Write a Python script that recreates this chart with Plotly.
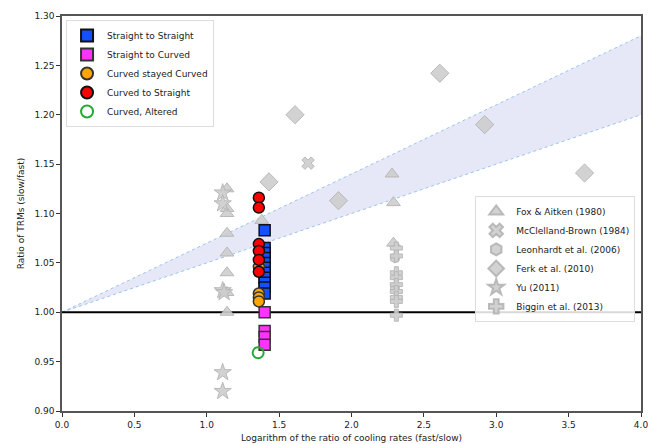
import plotly.graph_objects as go

# ---- data ----
band_x = [0.0, 4.0]
band_low = [1.0, 1.20]
band_high = [1.0, 1.28]

fox_x = [1.14, 1.14, 1.14, 1.14, 1.14, 1.14, 1.14, 1.14, 2.28, 2.29, 2.29, 1.38]
fox_y = [1.125, 1.105, 1.10, 1.08, 1.06, 1.04, 1.02, 1.00, 1.14, 1.111, 1.07, 1.093]

mcc_x = [1.70]
mcc_y = [1.151]

leon_x = [2.30, 2.30]
leon_y = [1.055, 1.025]

ferk_x = [1.61, 2.61, 2.92, 3.61, 1.43, 1.91]
ferk_y = [1.200, 1.242, 1.190, 1.141, 1.132, 1.113]

yu_x = [1.11, 1.11, 1.11, 1.12, 1.11, 1.11]
yu_y = [1.121, 1.110, 1.022, 1.020, 0.939, 0.920]

big_x = [2.31, 2.31, 2.31, 2.31, 2.31, 2.31, 2.31, 2.31, 2.31]
big_y = [1.065, 1.057, 1.040, 1.035, 1.028, 1.021, 1.015, 1.011, 0.997]

ss_x = [1.40] * 11
ss_y = [1.083, 1.065, 1.060, 1.055, 1.050, 1.045, 1.040, 1.035, 1.030, 1.025, 1.019]

sc_x = [1.40, 1.40, 1.40, 1.40]
sc_y = [1.000, 0.981, 0.975, 0.967]

cc_x = [1.36, 1.36, 1.36, 1.36]
cc_y = [1.046, 1.019, 1.015, 1.011]

cs_x = [1.36, 1.36, 1.36, 1.36, 1.36, 1.36]
cs_y = [1.116, 1.106, 1.069, 1.062, 1.053, 1.041]

ca_x = [1.355]
ca_y = [0.959]

x_ticks = [0.0, 0.5, 1.0, 1.5, 2.0, 2.5, 3.0, 3.5, 4.0]
y_ticks = [0.90, 0.95, 1.00, 1.05, 1.10, 1.15, 1.20, 1.25, 1.30]

GRAY = "rgba(205,205,205,0.9)"
GRAY_EDGE = "rgba(180,180,180,0.9)"
FONT = "DejaVu Sans"

fig = go.Figure()

# band
fig.add_trace(go.Scatter(x=band_x, y=band_low, mode="lines",
                         line=dict(color="#9cc3ec", width=1, dash="dot"),
                         showlegend=False, hoverinfo="skip"))
fig.add_trace(go.Scatter(x=band_x, y=band_high, mode="lines", fill="tonexty",
                         fillcolor="rgba(200,205,240,0.45)",
                         line=dict(color="#9cc3ec", width=1, dash="dot"),
                         showlegend=False, hoverinfo="skip"))
# reference line
fig.add_trace(go.Scatter(x=[0, 4], y=[1.0, 1.0], mode="lines",
                         line=dict(color="black", width=2),
                         showlegend=False, hoverinfo="skip"))

def gray(name, x, y, symbol, size):
    fig.add_trace(go.Scatter(x=x, y=y, mode="markers", name=name, legend="legend2",
                             marker=dict(symbol=symbol, size=size, color=GRAY,
                                         line=dict(color=GRAY_EDGE, width=1))))

gray("Fox & Aitken (1980)", fox_x, fox_y, "triangle-up", 12)
gray("McClelland-Brown (1984)", mcc_x, mcc_y, "x", 11)
gray("Leonhardt et al. (2006)", leon_x, leon_y, "hexagon", 10)
gray("Ferk et al. (2010)", ferk_x, ferk_y, "diamond", 14)
gray("Yu (2011)", yu_x, yu_y, "star", 13)
gray("Biggin et al. (2013)", big_x, big_y, "cross", 10)

def col(name, x, y, symbol, color, edge, width=1.5):
    fig.add_trace(go.Scatter(x=x, y=y, mode="markers", name=name, legend="legend",
                             marker=dict(symbol=symbol, size=11, color=color,
                                         line=dict(color=edge, width=width))))

col("Straight to Straight", ss_x, ss_y, "square", "#1550ff", "#111111")
col("Straight to Curved", sc_x, sc_y, "square", "#ff33ff", "#333333")
col("Curved stayed Curved", cc_x, cc_y, "circle", "#ffa500", "#333333")
col("Curved to Straight", cs_x, cs_y, "circle", "#ff0000", "#111111")
col("Curved, Altered", ca_x, ca_y, "circle-open", "#22aa33", "#22aa33", 2)

axis_common = dict(showline=True, linecolor="#555555", linewidth=1.5, mirror=True,
                   ticks="outside", ticklen=4, tickcolor="#333333", showgrid=False,
                   zeroline=False, automargin=False,
                   tickfont=dict(family=FONT, size=9, color="#222222"))

fig.update_layout(
    width=650, height=444,
    margin=dict(l=62, r=9, t=16, b=33),
    paper_bgcolor="white", plot_bgcolor="white",
    font=dict(family=FONT, size=9, color="#222222"),
    xaxis=dict(range=[0, 4], tickvals=x_ticks, tickformat=".1f",
               title=dict(text="Logarithm of the ratio of cooling rates (fast/slow)",
                          font=dict(size=9), standoff=6), **axis_common),
    yaxis=dict(range=[0.90, 1.30], tickvals=y_ticks, tickformat=".2f",
               title=dict(text="Ratio of TRMs (slow/fast)", font=dict(size=9), standoff=8),
               **axis_common),
    legend=dict(x=0.007, y=0.99, xanchor="left", yanchor="top", traceorder="normal",
                bgcolor="rgba(255,255,255,0.85)", bordercolor="#dddddd", borderwidth=1,
                font=dict(family=FONT, size=9), tracegroupgap=0, itemsizing="constant"),
    legend2=dict(x=0.99, y=0.385, xanchor="right", yanchor="middle", traceorder="normal",
                 bgcolor="rgba(255,255,255,0.85)", bordercolor="#dddddd", borderwidth=1,
                 font=dict(family=FONT, size=9), tracegroupgap=0, itemsizing="constant"),
)

fig.write_html("out.html", config={"displayModeBar": False},
               post_script="document.body.style.margin='0px';")
